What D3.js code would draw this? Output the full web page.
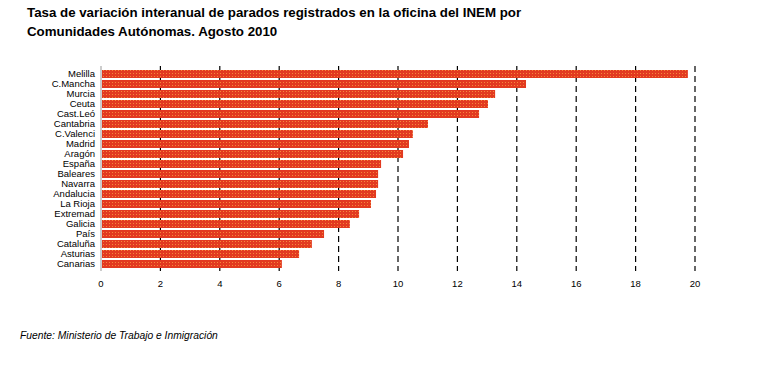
<!DOCTYPE html>
<html><head><meta charset="utf-8">
<script src="https://cdn.jsdelivr.net/npm/d3@7"></script>
<style>body{margin:0;background:#fff}svg{display:block}text{font-family:"Liberation Sans",Arial,sans-serif}</style>
</head><body>
<script>
const categories = ["Melilla","C.Mancha","Murcia","Ceuta","Cast.Leó","Cantabria","C.Valenci","Madrid","Aragón","España","Baleares","Navarra","Andalucia","La Rioja","Extremad","Galicia","País","Cataluña","Asturias","Canarias"];
const values = [19.76,14.31,13.27,13.03,12.73,11.01,10.5,10.37,10.17,9.43,9.33,9.33,9.26,9.09,8.69,8.38,7.51,7.10,6.67,6.09];
const ticks = [0,2,4,6,8,10,12,14,16,18,20];
const titleLines = ["Tasa de variación interanual de parados registrados en la oficina del INEM por","Comunidades Autónomas. Agosto 2010"];
const source = "Fuente: Ministerio de Trabajo e Inmigración";

const W=762,H=390;
const svg=d3.select("body").append("svg").attr("width",W).attr("height",H);
const defs=svg.append("defs");
const pat=defs.append("pattern").attr("id","dots").attr("patternUnits","userSpaceOnUse").attr("width",3).attr("height",3);
pat.append("rect").attr("width",3).attr("height",3).attr("fill","#e23a20");
pat.append("rect").attr("x",1).attr("y",1).attr("width",1).attr("height",1).attr("fill","#f5863a");

const x=d3.scaleLinear().domain([0,20]).range([101,695]);
const y=d3.scaleBand().domain(categories).range([69,269]).paddingInner(0.2).paddingOuter(0.1);

// title
svg.append("g").selectAll("text").data(titleLines).join("text")
  .attr("x",27).attr("y",(d,i)=>17+i*19).attr("font-size",13.3).attr("font-weight","bold").attr("fill","#000").text(d=>d);

// grid lines
svg.append("g").selectAll("line").data(ticks.slice(1)).join("line")
  .attr("x1",d=>x(d)).attr("x2",d=>x(d)).attr("y1",66).attr("y2",271)
  .attr("stroke","#000").attr("stroke-width",1.2).attr("stroke-dasharray","6,4");

// bars
svg.append("g").selectAll("rect").data(values).join("rect")
  .attr("x",x(0)+1).attr("y",(d,i)=>y(categories[i])).attr("width",d=>x(d)-x(0)-1).attr("height",y.bandwidth())
  .attr("fill","url(#dots)");

// axis line
svg.append("line").attr("x1",x(0)).attr("x2",x(0)).attr("y1",66).attr("y2",271).attr("stroke","#999").attr("stroke-width",1);

// category labels
svg.append("g").selectAll("text").data(categories).join("text")
  .attr("x",95).attr("y",d=>y(d)+y.bandwidth()/2+3.3).attr("text-anchor","end").attr("font-size",9.5).attr("fill","#000").text(d=>d);

// x tick labels
svg.append("g").selectAll("text").data(ticks).join("text")
  .attr("x",d=>x(d)).attr("y",287).attr("text-anchor","middle").attr("font-size",9.5).attr("fill","#000").text(d=>d);

// source
svg.append("text").attr("x",20).attr("y",339).attr("font-size",10.3).attr("font-style","italic").attr("fill","#000").text(source);
</script>
</body></html>
